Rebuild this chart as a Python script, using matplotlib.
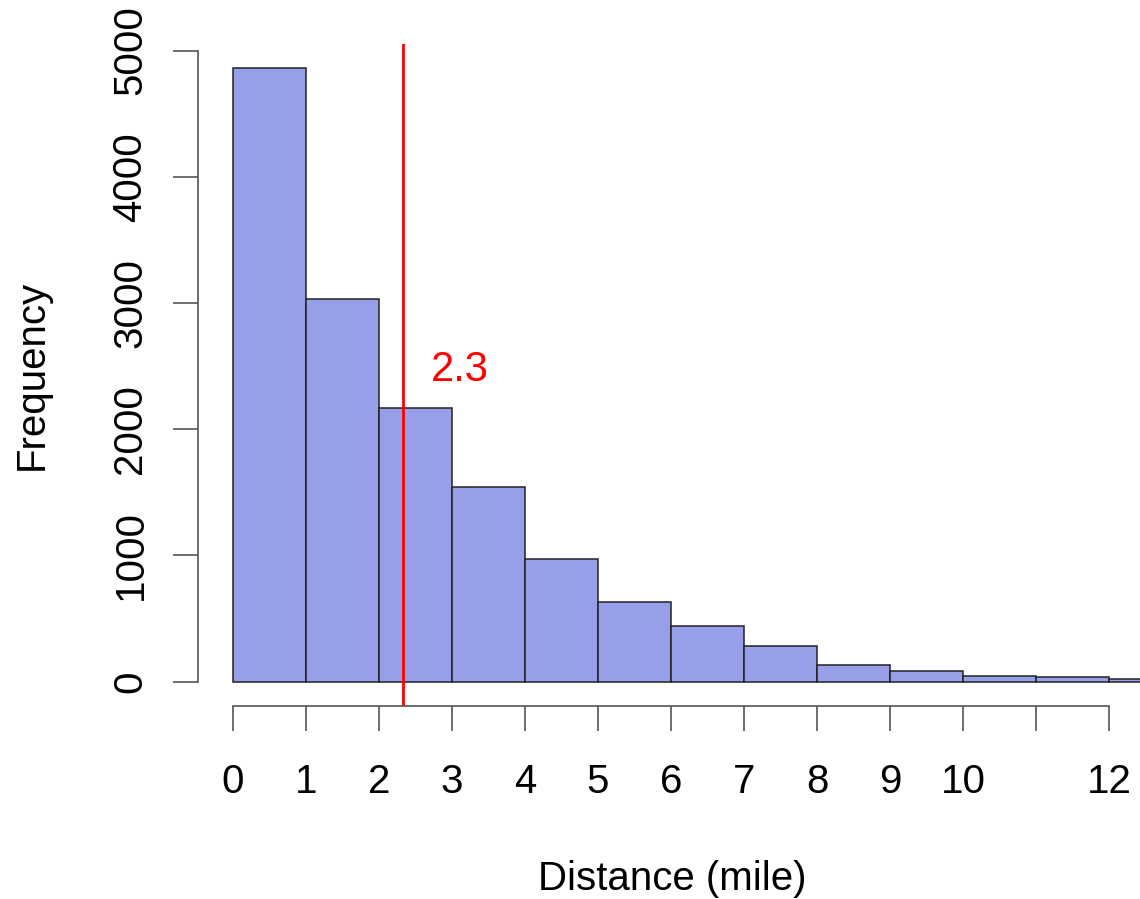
import matplotlib.pyplot as plt

plt.rcParams['font.family'] = ['Liberation Sans', 'DejaVu Sans']

# histogram counts per 1-mile bin
bin_edges = [0, 1, 2, 3, 4, 5, 6, 7, 8, 9, 10, 11, 12, 13]
counts = [4860, 3030, 2170, 1540, 970, 630, 440, 278, 128, 85, 47, 38, 22]
mean_dist = 2.33
mean_label = "2.3"

x_ticks = [0, 1, 2, 3, 4, 5, 6, 7, 8, 9, 10, 11, 12]
x_labels = ["0", "1", "2", "3", "4", "5", "6", "7", "8", "9", "10", "", "12"]
y_ticks = [0, 1000, 2000, 3000, 4000, 5000]

W, H = 1140, 899
fig = plt.figure(figsize=(W / 100, H / 100), dpi=100)
ax = fig.add_axes([198 / W, 193 / H, (1144 - 198) / W, (706 - 44) / H])

widths = [bin_edges[i + 1] - bin_edges[i] for i in range(len(counts))]
ax.bar(bin_edges[:-1], counts, width=widths, align='edge',
       color='#979fe8', edgecolor='#222222', linewidth=1.1)

ax.axvline(mean_dist, color='red', linewidth=2)
ax.text(3.1, 2470, mean_label, color='red', fontsize=30, ha='center', va='center')

ax.set_xlim(-0.48, 12.48)
ax.set_ylim(-194, 5052)

for s in ['top', 'right']:
    ax.spines[s].set_visible(False)
ax.spines['bottom'].set_bounds(0, 12)
ax.spines['left'].set_bounds(0, 5000)
for s in ['bottom', 'left']:
    ax.spines[s].set_color('#555555')
    ax.spines[s].set_linewidth(1.2)

ax.set_xticks(x_ticks)
ax.set_xticklabels(x_labels)
ax.set_yticks(y_ticks)
ax.set_yticklabels([str(v) for v in y_ticks], rotation=90, va='center')
ax.tick_params(axis='both', direction='out', length=18, width=1.2,
               color='#555555', labelsize=29)
ax.tick_params(axis='x', pad=23)
ax.tick_params(axis='y', pad=17)

# axis titles placed like R's mtext lines
fig.text(672 / W, 1 - 890 / H, "Distance (mile)", fontsize=29,
         ha='center', va='baseline')
fig.text(43 / W, 1 - 375 / H, "Frequency", fontsize=29, rotation=90,
         rotation_mode='anchor', ha='center', va='baseline')

fig.savefig("out.png", dpi=100)
